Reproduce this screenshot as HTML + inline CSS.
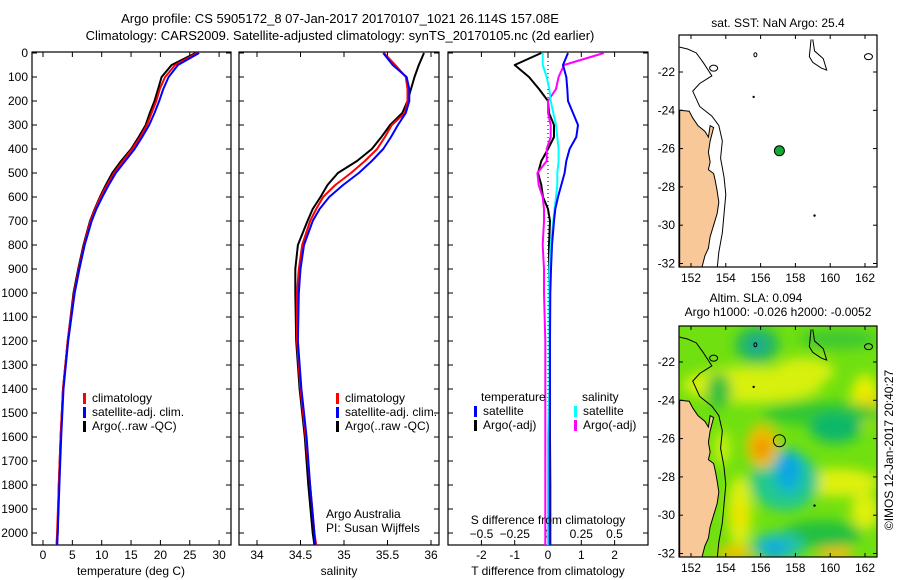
<!DOCTYPE html>
<html><head><meta charset="utf-8">
<style>
body{margin:0;background:#fff;}
svg{display:block;font-family:"Liberation Sans",sans-serif;}
text{font-size:12px;fill:#000;}
</style></head>
<body>
<svg id="s" width="900" height="580" viewBox="0 0 900 580" xmlns="http://www.w3.org/2000/svg">
<defs>
<filter id="blur" x="-30%" y="-30%" width="160%" height="160%"><feGaussianBlur stdDeviation="6"/></filter>
<clipPath id="clip2"><rect x="679" y="326" width="198" height="231"/></clipPath>
<clipPath id="clip1"><rect x="679" y="35" width="198" height="232"/></clipPath>
</defs>
<text x="340" y="23" text-anchor="middle" style="font-size:13px">Argo profile: CS 5905172_8 07-Jan-2017 20170107_1021 26.114S 157.08E</text>
<text x="340" y="40" text-anchor="middle" style="font-size:13px">Climatology: CARS2009. Satellite-adjusted climatology: synTS_20170105.nc (2d earlier)</text>
<g id="g"></g>
</svg>
<script>
// depth levels (m)
const depths=[0,50,100,150,200,250,300,350,400,450,500,550,600,650,700,800,900,1000,1200,1400,1600,1800,2000,2050];
// temperature (deg C)
const tempArgo=[26.0,21.9,20.2,19.6,19.0,18.2,17.5,16.3,15.0,13.3,11.8,10.7,9.7,8.8,8.0,6.9,6.0,5.2,4.2,3.4,3.0,2.7,2.5,2.4];
const tempClim=[26.3,22.5,20.8,19.9,19.3,18.5,17.7,16.6,15.2,13.6,12.1,10.9,9.8,8.9,8.1,7.0,6.1,5.3,4.2,3.4,3.0,2.7,2.4,2.3];
const tempSat=[26.6,23.0,21.4,20.5,19.8,19.0,18.1,16.9,15.6,14.0,12.4,11.2,10.1,9.1,8.3,7.1,6.2,5.4,4.3,3.5,3.1,2.8,2.5,2.4];
// salinity (psu)
const salArgo=[35.92,35.86,35.81,35.77,35.73,35.67,35.53,35.43,35.32,35.15,34.93,34.81,34.73,34.64,34.58,34.47,34.44,34.44,34.45,34.49,34.55,34.59,34.64,34.66];
const salClim=[35.46,35.59,35.71,35.73,35.73,35.70,35.55,35.47,35.38,35.24,35.08,34.90,34.76,34.68,34.61,34.52,34.48,34.46,34.46,34.50,34.56,34.61,34.66,34.68];
const salSat=[35.45,35.56,35.72,35.75,35.75,35.71,35.62,35.54,35.45,35.32,35.17,34.99,34.83,34.72,34.64,34.54,34.50,34.48,34.47,34.51,34.57,34.61,34.66,34.67];
// differences from climatology
const dTsat=[0.6,0.45,0.55,0.58,0.6,0.75,0.9,0.85,0.65,0.55,0.5,0.4,0.3,0.22,0.18,0.12,0.09,0.07,0.06,0.06,0.05,0.05,0.05,0.05];
const dTargo=[-0.2,-1.0,-0.57,-0.27,0.0,0.03,0.18,0.18,0.0,-0.2,-0.3,-0.2,-0.15,0.0,0.06,0.03,0.03,0.05,0.05,0.06,0.06,0.07,0.07,0.07];
const dSsat=[-0.04,-0.04,-0.01,0.01,0.02,0.04,0.06,0.07,0.08,0.08,0.07,0.07,0.06,0.05,0.04,0.02,0.01,0.01,0.01,0.01,0.0,0.0,0.0,0.0];
const dSargo=[0.42,0.12,0.08,0.06,0.0,0.0,0.02,0.02,-0.01,-0.01,-0.08,-0.07,-0.04,-0.03,-0.03,-0.04,-0.03,-0.03,-0.02,-0.02,-0.02,-0.02,-0.02,-0.02];
// axis ticks
const depthTicks=[0,100,200,300,400,500,600,700,800,900,1000,1100,1200,1300,1400,1500,1600,1700,1800,1900,2000];
const tempTicks=[0,5,10,15,20,25,30];
const salTicks=[34,34.5,35,35.5,36];
const dTTicks=[-2,-1,0,1,2];
const dSTicks=[-0.5,-0.25,0,0.25,0.5];
const dSLabels=['\u22120.5','\u22120.25','0','0.25','0.5'];
const lonTicks=[152,154,156,158,160,162];
const latTicks=[-22,-24,-26,-28,-30,-32];
const argoLon=157.08, argoLat=-26.114;

const NS='http://www.w3.org/2000/svg';
const G=document.getElementById('g');
function el(tag,attrs,parent){const e=document.createElementNS(NS,tag);for(const k in attrs)e.setAttribute(k,attrs[k]);(parent||G).appendChild(e);return e;}
function tx(x,y,s,anchor,size){const t=el('text',{x:x,y:y,'text-anchor':anchor||'middle'});if(size)t.style.fontSize=size+'px';t.textContent=s;return t;}

const yD=d=>53+d*0.24;
const PT={l:32,r:231}, PS={l:239,r:439}, PD={l:448,r:648};
const TOP=52,BOT=545;
const xT=v=>43+v*5.87;
const xS=v=>257+(v-34)*87;
const xdT=v=>548+v*33.3;
const xdS=v=>548+v*133;

function frame(p,name){
  const r=el('rect',{x:p.l,y:TOP,width:p.r-p.l,height:BOT-TOP,fill:'none',stroke:'#000','stroke-width':1.2});
  
  
  depthTicks.forEach(d=>{
    el('line',{x1:p.l,x2:p.l+5,y1:yD(d),y2:yD(d),stroke:'#000'});
    el('line',{x1:p.r-5,x2:p.r,y1:yD(d),y2:yD(d),stroke:'#000'});
  });
}
function xticks(p,ticks,fx,labY){
  ticks.forEach(v=>{const x=fx(v);
    el('line',{x1:x,x2:x,y1:BOT,y2:BOT-5,stroke:'#000'});
    el('line',{x1:x,x2:x,y1:TOP,y2:TOP+5,stroke:'#000'});
    if(labY){const t=tx(x,labY,String(v));
      
      }
  });
}
function line(vals,fx,color,w,name){
  const pts=vals.map((v,i)=>fx(v).toFixed(1)+','+yD(depths[i]).toFixed(1)).join(' ');
  const p=el('polyline',{points:pts,fill:'none',stroke:color,'stroke-width':w||2,'stroke-linejoin':'round'});
  
  
}
function legend(x,y,color,label,name){
  el('rect',{x:x,y:y-9,width:3,height:11,fill:color});
  const t=tx(x+9,y,label,'start');
  
  
}

frame(PT,'temperature-panel');
frame(PS,'salinity-panel');
frame(PD,'difference-panel');

depthTicks.forEach(d=>{const t=tx(28,yD(d)+4,String(d),'end');
  
  });

// temperature panel
xticks(PT,tempTicks,xT,559);
line(tempArgo,xT,'#000',2,'temp-argo-line');
line(tempClim,xT,'#f00',2,'temp-clim-line');
line(tempSat,xT,'#00f',2,'temp-sat-line');
tx(131,575,'temperature (deg C)');
legend(83,402,'#f00','climatology','legend-climatology');
legend(83,416,'#00f','satellite-adj. clim.','legend-satellite');
legend(83,430,'#000','Argo(..raw -QC)','legend-argo');

// salinity panel
xticks(PS,salTicks,xS,559);
line(salArgo,xS,'#000',2,'sal-argo-line');
line(salClim,xS,'#f00',2,'sal-clim-line');
line(salSat,xS,'#00f',2,'sal-sat-line');
tx(339,575,'salinity');
legend(336,402,'#f00','climatology','legend-climatology-2');
legend(336,416,'#00f','satellite-adj. clim.','legend-satellite-2');
legend(336,430,'#000','Argo(..raw -QC)','legend-argo-2');
tx(326,518,'Argo Australia','start');
tx(326,532,'PI: Susan Wijffels','start');

// difference panel
xticks(PD,dTTicks,xdT,559);
dSTicks.forEach((v,i)=>{const t=tx(xdS(v),538,dSLabels[i]);
  
  });
for(let y=53;y<BOT;y+=4) el('rect',{x:547.5,y:y,width:1,height:1,fill:'#000'});
line(dTargo,xdT,'#000',2,'dt-argo-line');
line(dSargo,xdS,'#f0f',2,'ds-argo-line');
line(dSsat,xdS,'#0ff',2,'ds-sat-line');
line(dTsat,xdT,'#00f',2,'dt-sat-line');
tx(548,524,'S difference from climatology');
tx(548,575,'T difference from climatology');
tx(481,401,'temperature','start');
tx(582,401,'salinity','start');
legend(474,415,'#00f','satellite','legend-t-satellite');
legend(474,429,'#000','Argo(-adj)','legend-t-argo');
legend(574,415,'#0ff','satellite','legend-s-satellite');
legend(574,429,'#f0f','Argo(-adj)','legend-s-argo');

// maps
function mapFns(latRef){return{lx:v=>691+(v-152)*17.4,ly:v=>latRef+(-22-v)*19.15};}
const coast=[[151.35,-24],[151.9,-24.05],[152.1,-24.4],[152.4,-24.8],[152.8,-25.1],[153.0,-25.4],[153.1,-24.8],[153.3,-24.9],[153.1,-25.6],[153.0,-26.2],[153.1,-26.7],[153.0,-27.1],[153.3,-27.3],[153.4,-27.7],[153.5,-28.2],[153.6,-28.8],[153.5,-29.4],[153.3,-30.0],[153.1,-30.6],[153.0,-31.2],[152.8,-31.6],[152.6,-32.3],[151.35,-32.3]];
const contour=[[151.35,-20.7],[151.8,-20.8],[152.3,-21.0],[152.7,-21.5],[153.2,-22.2],[152.5,-22.6],[152.1,-23.0],[152.5,-23.8],[153.2,-24.3],[153.6,-24.8],[153.8,-25.6],[153.7,-26.5],[153.9,-27.5],[154.0,-28.4],[153.9,-29.4],[153.8,-30.4],[153.6,-31.4],[153.5,-32.3]];
const ridge=[[159.0,-20.3],[159.1,-20.9],[159.6,-21.3],[159.8,-21.9],[159.5,-21.8],[159.0,-21.5],[158.8,-21.2],[158.9,-20.3]];
// SLA field blobs: lon, lat, rx, ry, colour
const slaBlobs=[
  [155.5,-23.2,70,18,'#d8f010'],[158.5,-22.5,30,14,'#d8f010'],[162,-24,14,26,'#e8f000'],[162.2,-24.2,7,10,'#f0d000'],
  [160.5,-28.3,40,14,'#e0f010'],[162,-29.8,14,18,'#e0f010'],[154.8,-29.8,12,36,'#e0f010'],[154.8,-30,6,14,'#f0e000'],
  [154.5,-32,18,8,'#f0c000'],[160.3,-32,18,8,'#f0c000'],[153.8,-26.5,8,18,'#c8f010'],
  [159.5,-24.7,60,12,'#30c830'],[160.3,-25.4,26,16,'#10b868'],[155.8,-21.1,22,18,'#20b860'],[155.8,-21.1,9,8,'#20a898'],
  [153.6,-23.5,12,18,'#30c040'],[160.5,-20.8,40,10,'#40c830'],[159.5,-31,40,14,'#20c040'],
  [157.4,-28.2,34,30,'#20c890'],[157.6,-27.7,14,22,'#10b0d8'],[157.6,-27.6,7,12,'#10a0e8'],
  [157,-31.6,26,14,'#20c0b0'],[156.8,-31.8,12,8,'#10a8e0'],
  [156.1,-26.4,16,22,'#f0c000'],[156.1,-26.5,8,11,'#f09000']];
function drawMap(top,bottom,latRef,clip,name,field){
  const f=mapFns(latRef);
  const gm=el('g',{'clip-path':'url(#'+clip+')'});
  
  
  if(field){
    el('rect',{x:679,y:top,width:198,height:bottom-top,fill:'#70e010'},gm);
    const fb=el('g',{filter:'url(#blur)'},gm);
    slaBlobs.forEach(b=>{const e=el('ellipse',{cx:f.lx(b[0]),cy:f.ly(b[1]),rx:b[2],ry:b[3],fill:b[4]},fb);
      
      });
  }
  el('polygon',{points:coast.map(p=>f.lx(p[0])+','+f.ly(p[1])).join(' '),fill:'#f8c898',stroke:'#000','stroke-width':1},gm);
  el('polyline',{points:contour.map(p=>f.lx(p[0])+','+f.ly(p[1])).join(' '),fill:'none',stroke:'#000','stroke-width':1},gm);
  el('polyline',{points:ridge.map(p=>f.lx(p[0])+','+f.ly(p[1])).join(' '),fill:'none',stroke:'#000','stroke-width':1},gm);
  el('ellipse',{cx:f.lx(153.3),cy:f.ly(-21.8),rx:4,ry:3,fill:'none',stroke:'#000'},gm);
  el('ellipse',{cx:f.lx(162.2),cy:f.ly(-21.2),rx:4,ry:3,fill:'none',stroke:'#000'},gm);
  el('ellipse',{cx:f.lx(155.7),cy:f.ly(-21.1),rx:1.5,ry:2,fill:'none',stroke:'#000'},gm);
  el('circle',{cx:f.lx(155.6),cy:f.ly(-23.3),r:1.2,fill:'#000'},gm);
  el('circle',{cx:f.lx(159.1),cy:f.ly(-29.5),r:1.2,fill:'#000'},gm);
  const c=el('circle',{cx:f.lx(argoLon),cy:f.ly(argoLat),r:field?6:5,fill:field?'none':'#1a3',stroke:'#000','stroke-width':1});
  
  
  el('rect',{x:679,y:top,width:198,height:bottom-top,fill:'none',stroke:'#000','stroke-width':1.2});
  lonTicks.forEach(v=>{const x=f.lx(v);
    el('line',{x1:x,x2:x,y1:top,y2:top+4,stroke:'#000'});
    el('line',{x1:x,x2:x,y1:bottom,y2:bottom-4,stroke:'#000'});
    const t=tx(x,bottom+15,String(v));
    
    });
  latTicks.forEach(v=>{const y=f.ly(v);
    el('line',{x1:679,x2:683,y1:y,y2:y,stroke:'#000'});
    el('line',{x1:873,x2:877,y1:y,y2:y,stroke:'#000'});
    const t=tx(675,y+4,String(v),'end');
    
    });
}
drawMap(35,267,72,'clip1','sst-map',false);
drawMap(326,557,362,'clip2','sla-map',true);
tx(778,27,'sat. SST: NaN Argo: 25.4');
tx(756,302,'Altim. SLA: 0.094');
tx(778,316,'Argo h1000: -0.026 h2000: -0.0052');
const cr=tx(0,0,'\u00a9IMOS 12-Jan-2017 20:40:27');
cr.setAttribute('transform','translate(893,450) rotate(-90)');


</script>
</body></html>
